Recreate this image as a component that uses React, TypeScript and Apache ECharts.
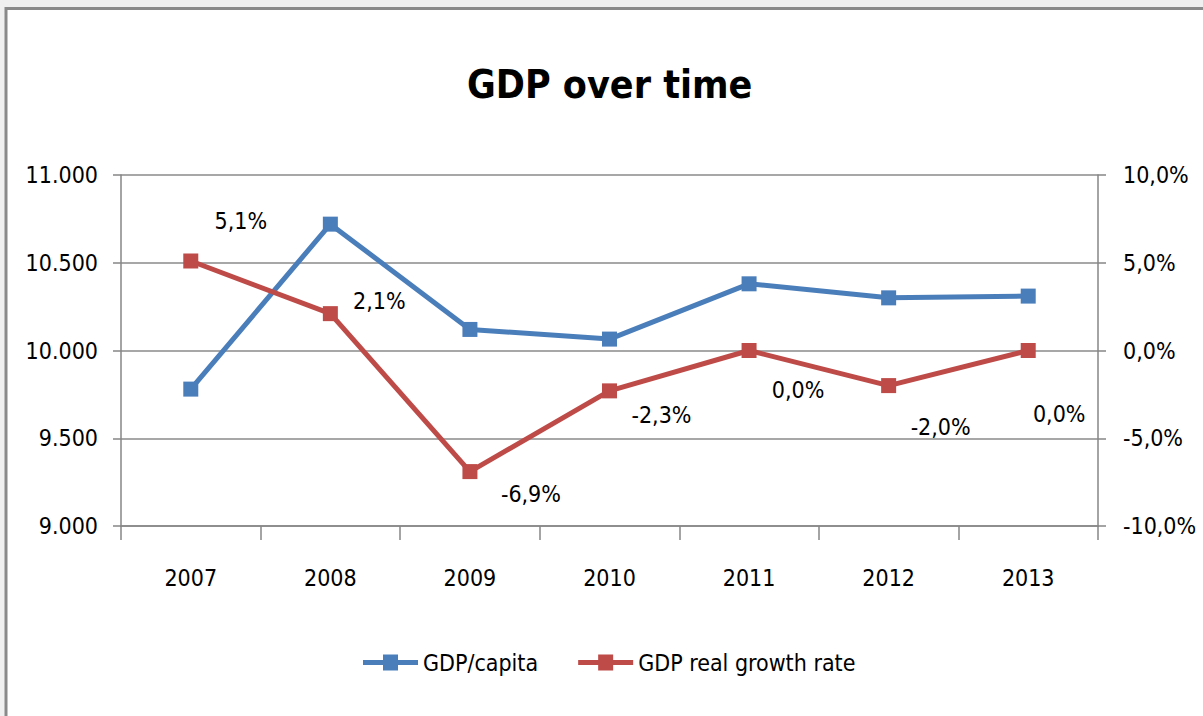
import React, { useEffect, useRef } from "react";
import * as echarts from "echarts";

const years = ["2007", "2008", "2009", "2010", "2011", "2012", "2013"];
const gdpPerCapita = [9780, 10720, 10120, 10065, 10380, 10300, 10310];
const growthRate = [5.1, 2.1, -6.9, -2.3, 0.0, -2.0, 0.0];
// label offsets (styling only) for growth-rate data labels
const growthLabelOffsets: [number, number][] = [
  [50, -40],
  [49, -13],
  [61, 22],
  [52, 24],
  [49, 39],
  [52, 41],
  [31, 63],
];

const FONT = "'DejaVu Sans Condensed', 'Liberation Sans Narrow', sans-serif";

export default function App() {
  const ref = useRef<HTMLDivElement>(null);
  useEffect(() => {
    if (!ref.current) return;
    document.body.style.margin = "0";
    document.body.style.overflow = "hidden";
    const chart = echarts.init(ref.current, undefined, { renderer: "svg" });
    const fmtThousands = (v: number) =>
      String(Math.round(v)).replace(/\B(?=(\d{3})+(?!\d))/g, ".");
    const fmtPct = (v: number) => v.toFixed(1).replace(".", ",") + "%";
    chart.setOption({
      animation: false,
      backgroundColor: "#f0f0f0",
      textStyle: { fontFamily: FONT },
      graphic: [
        {
          type: "rect",
          z: -10,
          shape: { x: 6, y: 8.5, width: 1400, height: 900 },
          style: { fill: "#ffffff", stroke: "#8a8a8a", lineWidth: 3 },
        },
      ],
      title: {
        text: "GDP over time",
        left: 467,
        top: 65,
        padding: 0,
        textStyle: { fontFamily: FONT, fontSize: 39, fontWeight: "bold", color: "#000" },
      },
      legend: {
        left: 358,
        top: 646,
        itemWidth: 55,
        itemHeight: 16,
        itemGap: 40,
        icon: "path://M0,5.5 H55 V10.5 H0 Z M20,0 H35 V16 H20 Z",
        textStyle: { fontFamily: FONT, fontSize: 23, color: "#000" },
        data: ["GDP/capita", "GDP real growth rate"],
      },
      grid: { left: 121, right: 105, top: 175, bottom: 190, containLabel: false },
      xAxis: {
        type: "category",
        data: years,
        boundaryGap: true,
        axisLine: { onZero: false, lineStyle: { color: "#868686", width: 1.5 } },
        axisTick: { show: true, length: 14, lineStyle: { color: "#868686", width: 1.5 } },
        axisLabel: { margin: 40, fontSize: 23, color: "#000", fontFamily: FONT },
      },
      yAxis: [
        {
          type: "value",
          min: 9000,
          max: 11000,
          interval: 500,
          axisLine: { show: true, lineStyle: { color: "#868686", width: 1.5 } },
          axisTick: { show: true, length: 8, lineStyle: { color: "#868686", width: 1.5 } },
          axisLabel: { margin: 23, fontSize: 23, color: "#000", fontFamily: FONT, formatter: fmtThousands },
          splitLine: { show: true, lineStyle: { color: "#8a8a8a", width: 1.5 } },
        },
        {
          type: "value",
          min: -10,
          max: 10,
          interval: 5,
          position: "right",
          axisLine: { show: true, lineStyle: { color: "#868686", width: 1.5 } },
          axisTick: { show: true, length: 8, lineStyle: { color: "#868686", width: 1.5 } },
          axisLabel: { margin: 25, fontSize: 23, color: "#000", fontFamily: FONT, formatter: fmtPct },
          splitLine: { show: false },
        },
      ],
      series: [
        {
          name: "GDP/capita",
          type: "line",
          yAxisIndex: 0,
          data: gdpPerCapita,
          symbol: "rect",
          symbolSize: 15,
          color: "#4A7EBB",
          lineStyle: { width: 5, color: "#4A7EBB" },
          itemStyle: { color: "#4A7EBB" },
        },
        {
          name: "GDP real growth rate",
          type: "line",
          yAxisIndex: 1,
          data: growthRate.map((v, i) => ({
            value: v,
            label: { offset: growthLabelOffsets[i] },
          })),
          symbol: "rect",
          symbolSize: 15,
          color: "#BE4B48",
          lineStyle: { width: 5, color: "#BE4B48" },
          itemStyle: { color: "#BE4B48" },
          label: {
            show: true,
            position: "inside",
            fontFamily: FONT,
            fontSize: 23,
            color: "#000",
            formatter: (p: any) => fmtPct(Number(p.value)),
          },
        },
      ],
    });
    return () => chart.dispose();
  }, []);
  return (
    <div
      ref={ref}
      style={{ position: "fixed", left: 0, top: 0, width: 1203, height: 716 }}
    />
  );
}
